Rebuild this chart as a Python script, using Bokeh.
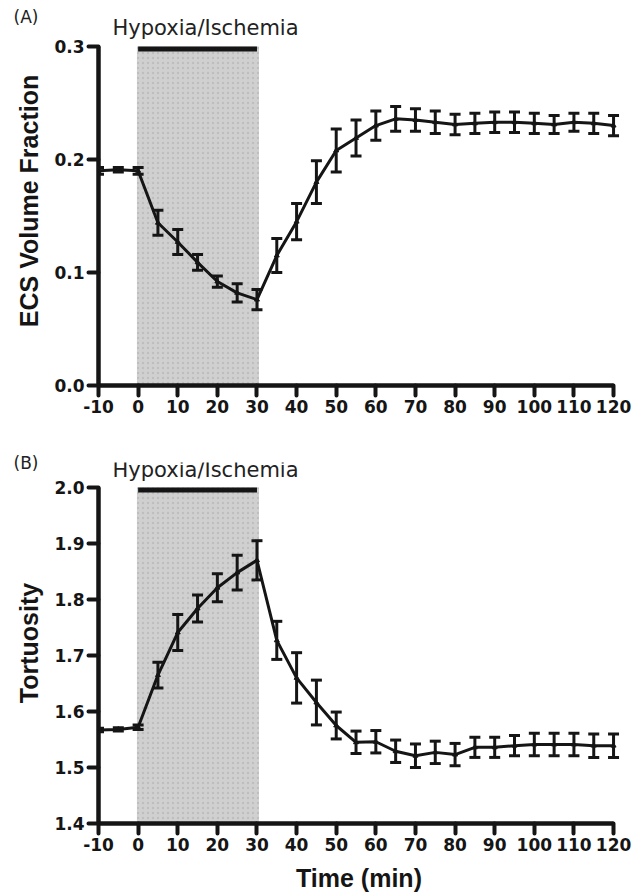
from bokeh.plotting import figure
from bokeh.layouts import column
from bokeh.models import (ColumnDataSource, Whisker, TeeHead, Label, FixedTicker,
                          PrintfTickFormatter, Range1d)
from bokeh.embed import file_html
from bokeh.resources import INLINE

time_min = [-10, -5, 0, 5, 10, 15, 20, 25, 30, 35, 40, 45, 50, 55, 60, 65, 70, 75,
            80, 85, 90, 95, 100, 105, 110, 115, 120]

ecs_mean = [0.190, 0.191, 0.190, 0.144, 0.127, 0.109, 0.092, 0.082, 0.076, 0.115,
            0.145, 0.180, 0.208, 0.219, 0.230, 0.236, 0.235, 0.233, 0.231, 0.232,
            0.233, 0.233, 0.232, 0.231, 0.233, 0.232, 0.230]
ecs_err = [0.003, 0.002, 0.003, 0.011, 0.011, 0.007, 0.005, 0.008, 0.009, 0.015,
           0.016, 0.019, 0.019, 0.016, 0.013, 0.011, 0.010, 0.010, 0.009, 0.009,
           0.009, 0.009, 0.009, 0.008, 0.008, 0.009, 0.009]

tort_mean = [1.567, 1.568, 1.572, 1.665, 1.741, 1.784, 1.821, 1.848, 1.870, 1.727,
             1.660, 1.616, 1.575, 1.545, 1.546, 1.529, 1.521, 1.527, 1.523, 1.536,
             1.536, 1.539, 1.541, 1.541, 1.541, 1.539, 1.539]
tort_err = [0.003, 0.003, 0.004, 0.023, 0.032, 0.024, 0.025, 0.031, 0.035, 0.034,
            0.045, 0.040, 0.024, 0.020, 0.020, 0.020, 0.021, 0.020, 0.020, 0.018,
            0.018, 0.018, 0.020, 0.020, 0.020, 0.021, 0.021]

x_ticks = [-10, 0, 10, 20, 30, 40, 50, 60, 70, 80, 90, 100, 110, 120]
ecs_ticks = [0.0, 0.1, 0.2, 0.3]
tort_ticks = [1.4, 1.5, 1.6, 1.7, 1.8, 1.9, 2.0]
insult_start, insult_end = 0, 30
insult_label = "Hypoxia/Ischemia"

TICK_FONT = "DejaVu Sans"
LABEL_FONT = "Liberation Sans"
INK = "#151515"


def style_axes(p, yticks):
    for ax in (p.xaxis[0], p.yaxis[0]):
        ax.axis_line_width = 4.5
        ax.axis_line_color = INK
        ax.major_tick_line_width = 4
        ax.major_tick_line_color = INK
        ax.major_tick_line_cap = "round"
        ax.major_tick_out = 10
        ax.major_tick_in = 0
        ax.minor_tick_line_color = None
        ax.major_label_text_font = TICK_FONT
        ax.major_label_text_font_style = "bold"
        ax.major_label_text_font_size = "17px"
        ax.major_label_text_color = INK
        ax.axis_label_text_font = LABEL_FONT
        ax.axis_label_text_font_style = "bold"
        ax.axis_label_text_font_size = "25px"
        ax.axis_label_text_color = INK
    p.xaxis[0].ticker = FixedTicker(ticks=x_ticks)
    p.xaxis[0].formatter = PrintfTickFormatter(format="%d")
    p.xaxis[0].bounds = (x_ticks[0], x_ticks[-1])
    p.xaxis[0].major_label_standoff = 4
    p.yaxis[0].ticker = FixedTicker(ticks=yticks)
    p.yaxis[0].formatter = PrintfTickFormatter(format="%.1f")
    p.yaxis[0].bounds = (yticks[0], yticks[-1])
    p.yaxis[0].major_label_standoff = 4
    p.grid.visible = False
    p.outline_line_color = None


def panel(mean, err, yticks, ylabel, bar_h, y_top, head_y, height, btop, bbot, tag,
          xlabel=None):
    y0, y1 = yticks[0], yticks[-1]
    p = figure(width=643, height=height, output_backend="svg", toolbar_location=None,
               x_range=Range1d(-10, 121.5), y_range=Range1d(y0, y_top),
               min_border_left=98, min_border_right=24,
               min_border_top=btop, min_border_bottom=bbot)
    p.background_fill_color = "white"
    p.border_fill_color = "white"
    # panel tag as title, pulled down next to the heading
    p.title.text = tag
    p.title.align = "left"
    p.title.offset = -85
    p.title.standoff = -20
    p.title.text_font = "DejaVu Sans"
    p.title.text_font_size = "17px"
    p.title.text_font_style = "normal"
    p.title.text_color = "#222222"
    # shaded insult period
    p.quad(left=[insult_start - 0.3], right=[insult_end + 0.5], bottom=[y0], top=[y1],
           fill_color="#d0d0d0", line_color=None,
           hatch_pattern="dot", hatch_color="#b0b0b0", hatch_scale=5, hatch_alpha=0.6)
    # black bar marking insult
    p.quad(left=[insult_start], right=[insult_end], bottom=[y1 - bar_h], top=[y1],
           fill_color=INK, line_color=None)
    p.add_layout(Label(x=-6.46, y=head_y, text=insult_label, text_font="DejaVu Sans",
                       text_font_size="21px", text_baseline="middle",
                       text_color="#222222"))
    src = ColumnDataSource(dict(x=time_min, y=mean,
                                lo=[m - e for m, e in zip(mean, err)],
                                hi=[m + e for m, e in zip(mean, err)]))
    p.line("x", "y", source=src, line_color=INK, line_width=3)
    w = Whisker(base="x", upper="hi", lower="lo", source=src, line_width=3,
                line_color=INK, level="annotation",
                upper_head=TeeHead(size=11, line_width=3, line_color=INK),
                lower_head=TeeHead(size=11, line_width=3, line_color=INK))
    p.add_layout(w)
    p.scatter("x", "y", source=src, size=5, marker="triangle", color=INK)
    style_axes(p, yticks)
    p.yaxis[0].axis_label = ylabel
    p.yaxis[0].axis_label_standoff = 8
    if xlabel:
        p.xaxis[0].axis_label = xlabel
        p.xaxis[0].axis_label_standoff = 10
    return p


p1 = panel(ecs_mean, ecs_err, ecs_ticks, "ECS Volume Fraction", 0.0045,
           0.32655, 0.3168, 430, 16, 45, "(A)")
p2 = panel(tort_mean, tort_err, tort_ticks, "Tortuosity", 0.009,
           2.0446, 2.0304, 465, 32, 72, "(B)", xlabel="Time (min)")

layout = column(p1, p2, spacing=0)
open("out.html", "w").write(file_html(layout, INLINE))
